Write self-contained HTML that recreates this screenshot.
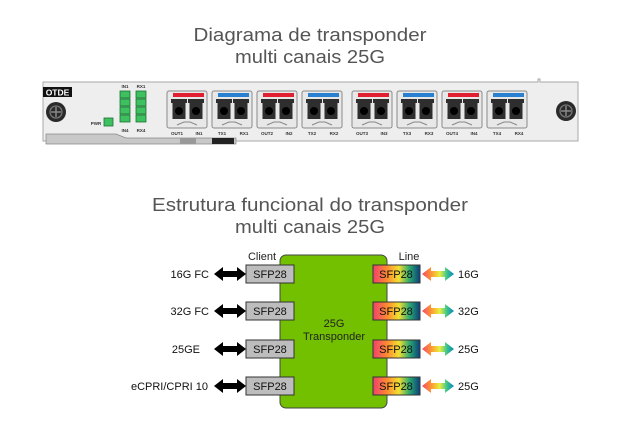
<!DOCTYPE html>
<html><head><meta charset="utf-8"><style>
html,body{margin:0;padding:0;background:#fff;width:620px;height:435px;overflow:hidden}
svg{display:block}
</style></head><body>
<svg width="620" height="435" viewBox="0 0 620 435" xmlns="http://www.w3.org/2000/svg" font-family="Liberation Sans, sans-serif">
<defs>
<linearGradient id="sg" x1="0" x2="1" y1="0" y2="0">
<stop offset="0" stop-color="#f0406e"/><stop offset="0.3" stop-color="#ff8a30"/><stop offset="0.55" stop-color="#f2e030"/><stop offset="0.78" stop-color="#2aa870"/><stop offset="1" stop-color="#0a3f7a"/></linearGradient>
<linearGradient id="ag" x1="0" x2="1" y1="0" y2="0">
<stop offset="0" stop-color="#f04a6a"/><stop offset="0.3" stop-color="#ff9a30"/><stop offset="0.55" stop-color="#e8f040"/><stop offset="0.8" stop-color="#30c090"/><stop offset="1" stop-color="#1080c0"/></linearGradient>
<g id="pbody">
<rect x="0" y="0" width="40" height="37" rx="2" fill="#e8e8e8" stroke="#8a8a8a"/>
<path d="M4 8h16v4h-1.5v16h-13v-16h-1.5z M21 8h16v4h-1.5v16h-13v-16h-1.5z" fill="#2e2e2e"/>
<circle cx="12" cy="20" r="4" fill="#000"/><circle cx="29" cy="20" r="4" fill="#000"/>
<path d="M10 34l7-3h6l7 3" fill="none" stroke="#888"/>
</g>
<g id="port"><use href="#pbody"/><rect x="6" y="2" width="31" height="4" fill="#e02030"/></g>
<g id="portb"><use href="#pbody"/><rect x="6" y="2" width="31" height="4" fill="#2a80d0"/></g>
<g id="barrow"><path d="M0 0l9-7v4h14v-4l9 7-9 7v-4h-14v4z" fill="#000"/></g>
<g id="carrow"><path d="M0 0l9-7v4h14v-4l9 7-9 7v-4h-14v4z" fill="url(#ag)"/></g>
</defs>

<g fill="#555" font-family="Liberation Sans, sans-serif" font-size="18" text-anchor="middle">
<text x="310" y="41" textLength="233" lengthAdjust="spacingAndGlyphs">Diagrama de transponder</text>
<text x="310" y="63" textLength="150" lengthAdjust="spacingAndGlyphs">multi canais 25G</text>
<text x="310" y="211" textLength="316" lengthAdjust="spacingAndGlyphs">Estrutura funcional do transponder</text>
<text x="310" y="233" textLength="150" lengthAdjust="spacingAndGlyphs">multi canais 25G</text>
</g>

<path d="M43 82h495v-3h2v3h38v59h-535z" fill="#eeeeee" stroke="#a8a8a8"/>
<path d="M46 134h70l10 4h110v6h-190z" fill="#c8c8c8" stroke="#888" stroke-width="0.7"/>
<rect x="180" y="138" width="16" height="6" fill="#999"/>
<rect x="212" y="138" width="22" height="6" fill="#222"/>
<rect x="43" y="87" width="29" height="10" fill="#111"/>
<text x="57.5" y="95.5" font-size="8.5" font-weight="bold" fill="#fff" text-anchor="middle">OTDE</text>
<circle cx="56" cy="112" r="10" fill="#2a2a2a"/><circle cx="56" cy="112" r="6" fill="none" stroke="#777" stroke-width="1.3"/>
<path d="M51 112h10M56 107v10" stroke="#888" stroke-width="1.5"/>
<circle cx="566" cy="111" r="10" fill="#2a2a2a"/><circle cx="566" cy="111" r="6" fill="none" stroke="#777" stroke-width="1.3"/>
<path d="M561 111h10M566 106v10" stroke="#888" stroke-width="1.5"/>
<g font-size="4.5" fill="#333" text-anchor="middle" font-weight="bold">
<text x="125" y="88">IN1</text><text x="141" y="88">RX1</text>
<text x="125" y="132">IN4</text><text x="141" y="132">RX4</text>
<text x="96" y="125">PWR</text>
</g>
<g fill="#3ec060" stroke="#1a7030" stroke-width="0.8">
<rect x="120" y="91" width="10" height="7"/><rect x="120" y="99" width="10" height="7"/><rect x="120" y="107" width="10" height="7"/><rect x="120" y="115" width="10" height="7"/>
<rect x="136" y="91" width="10" height="7"/><rect x="136" y="99" width="10" height="7"/><rect x="136" y="107" width="10" height="7"/><rect x="136" y="115" width="10" height="7"/>
<rect x="104" y="118" width="9" height="8"/>
</g>
<use href="#port" x="167" y="91"/><use href="#portb" x="212" y="91"/><use href="#port" x="257" y="91"/><use href="#portb" x="302" y="91"/>
<use href="#port" x="352" y="91"/><use href="#portb" x="397" y="91"/><use href="#port" x="442" y="91"/><use href="#portb" x="487" y="91"/>
<g font-size="4.5" fill="#333" text-anchor="middle" font-weight="bold">
<text x="177" y="135">OUT1</text><text x="199" y="135">IN1</text>
<text x="222" y="135">TX1</text><text x="244" y="135">RX1</text>
<text x="267" y="135">OUT2</text><text x="289" y="135">IN2</text>
<text x="312" y="135">TX2</text><text x="334" y="135">RX2</text>
<text x="362" y="135">OUT3</text><text x="384" y="135">IN3</text>
<text x="407" y="135">TX3</text><text x="429" y="135">RX3</text>
<text x="452" y="135">OUT4</text><text x="474" y="135">IN4</text>
<text x="497" y="135">TX4</text><text x="519" y="135">RX4</text>
</g>

<rect x="280" y="255" width="107" height="153" rx="6" fill="#72c000" stroke="#444" stroke-width="1"/>
<text x="334" y="327" font-size="11" fill="#222" text-anchor="middle">25G</text>
<text x="334" y="340" font-size="11" fill="#222" text-anchor="middle">Transponder</text>
<text x="262" y="260" font-size="11" fill="#222" text-anchor="middle">Client</text>
<text x="409" y="260" font-size="11" fill="#222" text-anchor="middle">Line</text>
<g font-size="11" fill="#111">
<rect x="246" y="265" width="48" height="18" fill="#bdbdbd" stroke="#333"/><text x="270" y="278" text-anchor="middle">SFP28</text>
<rect x="246" y="302" width="48" height="18" fill="#bdbdbd" stroke="#333"/><text x="270" y="315" text-anchor="middle">SFP28</text>
<rect x="246" y="340" width="48" height="18" fill="#bdbdbd" stroke="#333"/><text x="270" y="353" text-anchor="middle">SFP28</text>
<rect x="246" y="377" width="48" height="18" fill="#bdbdbd" stroke="#333"/><text x="270" y="390" text-anchor="middle">SFP28</text>
<rect x="373" y="265" width="47" height="18" fill="url(#sg)" stroke="#333"/><text x="396" y="278" text-anchor="middle">SFP28</text>
<rect x="373" y="302" width="47" height="18" fill="url(#sg)" stroke="#333"/><text x="396" y="315" text-anchor="middle">SFP28</text>
<rect x="373" y="340" width="47" height="18" fill="url(#sg)" stroke="#333"/><text x="396" y="353" text-anchor="middle">SFP28</text>
<rect x="373" y="377" width="47" height="18" fill="url(#sg)" stroke="#333"/><text x="396" y="390" text-anchor="middle">SFP28</text>
<text x="209" y="278" text-anchor="end">16G FC</text>
<text x="209" y="315" text-anchor="end">32G FC</text>
<text x="200" y="353" text-anchor="end">25GE</text>
<text x="208" y="390" text-anchor="end">eCPRI/CPRI 10</text>
<text x="458" y="278">16G</text><text x="458" y="315">32G</text><text x="458" y="353">25G</text><text x="458" y="390">25G</text>
</g>
<use href="#barrow" x="214" y="274"/><use href="#barrow" x="214" y="311"/><use href="#barrow" x="214" y="349"/><use href="#barrow" x="214" y="386"/>
<use href="#carrow" x="422" y="274"/><use href="#carrow" x="422" y="311"/><use href="#carrow" x="422" y="349"/><use href="#carrow" x="422" y="386"/>
</svg>
</body></html>
